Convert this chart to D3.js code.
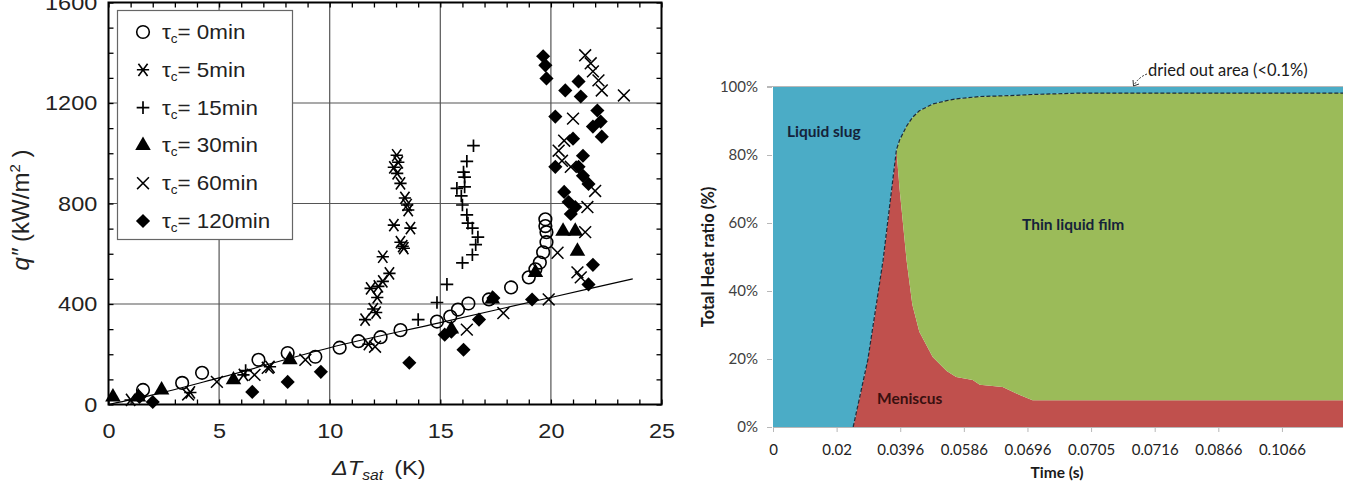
<!DOCTYPE html>
<html>
<head>
<meta charset="utf-8">
<script src="https://cdn.jsdelivr.net/npm/d3@7"></script>
<style>
  html, body { margin: 0; padding: 0; background: #fff; }
  svg { display: block; }
</style>
</head>
<body>
<svg id="chart" width="1360" height="484"></svg>
<script>
// ---------------- LEFT CHART DATA (ΔTsat [K], q'' [kW/m2]) ----------------
const xTicksLeft = [0, 5, 10, 15, 20, 25];
const yTicksLeft = [0, 400, 800, 1200, 1600];
const legendLabels = ["0min", "5min", "15min", "30min", "60min", "120min"];

const tau0 = [[1.56,58],[3.33,86],[4.23,126],[6.78,178],[8.1,205],[9.35,190],[10.45,226],[11.3,252],[12.3,268],[13.2,296],[14.85,330],[15.45,350],[15.8,378],[16.27,402],[17.2,418],[18.2,466],[19.0,506],[19.3,538],[19.5,565],[19.65,606],[19.8,646],[19.8,686],[19.75,710],[19.75,737]];
const tau5 = [[1.0,18],[3.7,48],[6.1,118],[7.3,150],[11.75,240],[11.6,338],[12.1,366],[11.97,380],[12.15,426],[11.85,462],[12.2,470],[12.4,490],[12.7,522],[12.4,588],[13.3,630],[13.2,646],[13.35,622],[13.65,702],[12.9,714],[13.55,774],[13.5,794],[13.4,822],[13.2,880],[13.05,920],[12.9,944],[13.1,964],[13.03,992]];
const tau15 = [[6.2,135],[14.0,338],[14.85,406],[15.3,478],[16.0,564],[16.45,596],[16.6,636],[16.7,666],[16.45,702],[16.25,722],[16.2,755],[16.0,794],[15.95,830],[16.1,866],[15.75,860],[16.1,905],[16.05,925],[16.2,968],[16.5,1030]];
const tau30 = [[0.2,30],[1.35,30],[2.4,58],[5.65,98],[8.2,178],[15.5,300],[17.35,420],[19.3,525],[20.55,690],[21.1,690],[21.2,610]];
const tau60 = [[3.6,40],[4.9,90],[6.6,118],[7.2,146],[8.9,178],[12.05,230],[16.2,298],[17.85,364],[19.9,418],[20.3,604],[20.6,1050],[20.35,1010],[20.5,970],[20.9,946],[21.0,1138],[21.2,526],[21.35,506],[21.55,686],[21.65,786],[22.0,850],[22.15,1290],[22.3,1250],[21.9,1326],[21.8,1358],[21.55,1390],[23.3,1230]];
const tau120 = [[1.4,30],[2.0,10],[6.5,50],[8.1,90],[9.6,130],[13.6,166],[15.2,278],[15.5,290],[16.05,218],[16.75,338],[17.4,424],[19.15,418],[19.65,1386],[19.75,1350],[19.8,1298],[20.65,1250],[20.2,1146],[21.25,1286],[21.35,1226],[22.1,1170],[22.25,1126],[21.9,1106],[22.3,1066],[21.0,1058],[21.45,990],[20.2,946],[21.25,946],[21.45,910],[21.7,878],[20.6,846],[20.8,806],[21.1,786],[20.9,758],[21.9,556],[21.7,478]];
const fitLine = [[0,0],[2,38],[5,106],[10,226],[15,326],[20,426],[23.7,500]];

// ---------------- RIGHT CHART DATA ----------------
const timeLabels = ["0", "0.02", "0.0396", "0.0586", "0.0696", "0.0705", "0.0716", "0.0866", "0.1066"];
const heatTicks = [0, 20, 40, 60, 80, 100];
// positions along the category axis (category index units)
const timePos   = [0, 1.26, 1.49, 1.73, 1.94, 1.99, 2.1, 2.19, 2.3, 2.51, 2.73, 2.88, 3.14, 3.25, 3.61, 3.88, 4.08, 4.82, 8.96];
const meniscus  = [0, 0, 19.7, 49, 81.5, 70, 49, 36, 28, 20.6, 16.5, 14.7, 13.8, 12.4, 11.8, 9.4, 7.9, 7.9, 7.9];
const thinFilm  = [0, 0, 0, 0, 0, 14.4, 39.5, 55, 65, 74.4, 79.5, 81.8, 83.2, 84.8, 85.6, 88.2, 89.9, 90.3, 90.3];
const liquidSlug= [100, 100, 80.3, 51, 18.5, 15.6, 11.5, 9, 7, 5, 4, 3.5, 3, 2.8, 2.6, 2.4, 2.2, 1.8, 1.8];

const svg = d3.select("#chart");

// ======================= LEFT CHART =======================
const L = svg.append("g").attr("font-family", "'Liberation Sans', Arial, sans-serif");
const xL = d3.scaleLinear().domain([0, 25]).range([108.5, 661.5]);
const yL = d3.scaleLinear().domain([0, 1600]).range([404.5, 2.5]);
const SX = 1.12;

// gridlines
L.append("g").selectAll("line.gx").data([5,10,15,20]).join("line")
  .attr("x1", d => xL(d)).attr("x2", d => xL(d)).attr("y1", yL(1600)).attr("y2", yL(0))
  .attr("stroke", "#555").attr("stroke-width", 1.2);
L.append("g").selectAll("line.gy").data([400,800,1200]).join("line")
  .attr("x1", xL(0)).attr("x2", xL(25)).attr("y1", d => yL(d)).attr("y2", d => yL(d))
  .attr("stroke", "#555").attr("stroke-width", 1.2);

// axes with inward minor ticks
function styleAxis(g) {
  g.select(".domain").remove();
  g.selectAll(".tick line").attr("stroke", "#000").attr("stroke-width", 1.3);
}
const xMinor = d3.range(0, 26, 1);
const yMinor = d3.range(0, 1601, 100);
L.append("g").attr("transform", `translate(0,${yL(0)})`)
  .call(d3.axisBottom(xL).tickValues(xMinor).tickSize(-5).tickPadding(19)
    .tickFormat(d => xTicksLeft.includes(d) ? d : ""))
  .call(styleAxis)
  .call(g => g.selectAll("text").attr("font-size", 21).attr("fill", "#222")
    .attr("font-family", "'Liberation Sans', Arial, sans-serif").attr("transform", `scale(${SX},1)`));
L.append("g").attr("transform", `translate(0,${yL(1600)})`)
  .call(d3.axisTop(xL).tickValues(xMinor).tickSize(-5).tickFormat(""))
  .call(styleAxis);
L.append("g").attr("transform", `translate(${xL(0)},0)`)
  .call(d3.axisLeft(yL).tickValues(yMinor).tickSize(-5).tickPadding(10)
    .tickFormat(d => yTicksLeft.includes(d) ? d : ""))
  .call(styleAxis)
  .call(g => g.selectAll("text").attr("font-size", 21).attr("fill", "#222")
    .attr("font-family", "'Liberation Sans', Arial, sans-serif").attr("transform", `scale(${SX},1)`));
L.append("g").attr("transform", `translate(${xL(25)},0)`)
  .call(d3.axisRight(yL).tickValues(yMinor).tickSize(-5).tickFormat(""))
  .call(styleAxis);

// frame
L.append("rect").attr("x", xL(0)).attr("y", yL(1600)).attr("width", xL(25) - xL(0)).attr("height", yL(0) - yL(1600))
  .attr("fill", "none").attr("stroke", "#000").attr("stroke-width", 2);

// symbols
const symX = { draw(ctx, size) { const r = Math.sqrt(size) / 2; ctx.moveTo(-r, -r); ctx.lineTo(r, r); ctx.moveTo(-r, r); ctx.lineTo(r, -r); } };
const symPlus = { draw(ctx, size) { const r = Math.sqrt(size) / 2; ctx.moveTo(-r, 0); ctx.lineTo(r, 0); ctx.moveTo(0, -r); ctx.lineTo(0, r); } };
const symStar = { draw(ctx, size) { const r = Math.sqrt(size) / 2; ctx.moveTo(-r, 0); ctx.lineTo(r, 0);
  const dx = r * 0.75, dy = r; ctx.moveTo(-dx, -dy); ctx.lineTo(dx, dy); ctx.moveTo(-dx, dy); ctx.lineTo(dx, -dy); } };
const symDiamond = { draw(ctx, size) { const r = Math.sqrt(size) / 2; ctx.moveTo(0, -r); ctx.lineTo(r, 0); ctx.lineTo(0, r); ctx.lineTo(-r, 0); ctx.closePath(); } };

const seriesDefs = [
  { data: tau0,   type: d3.symbolCircle,   size: 125, fill: "#fff",  stroke: "#000", sw: 1.6 },
  { data: tau5,   type: symStar,           size: 150, fill: "none",  stroke: "#000", sw: 1.6 },
  { data: tau15,  type: symPlus,           size: 160, fill: "none",  stroke: "#000", sw: 1.7 },
  { data: tau30,  type: d3.symbolTriangle, size: 105, fill: "#000",  stroke: "none", sw: 0 },
  { data: tau60,  type: symX,              size: 140, fill: "none",  stroke: "#000", sw: 1.5 },
  { data: tau120, type: symDiamond,        size: 200, fill: "#000",  stroke: "none", sw: 0 }
];

// fit line
L.append("path").datum(fitLine)
  .attr("d", d3.line().x(d => xL(d[0])).y(d => yL(d[1])).curve(d3.curveMonotoneX))
  .attr("fill", "none").attr("stroke", "#000").attr("stroke-width", 1.2);

seriesDefs.forEach(s => {
  const sym = d3.symbol().type(s.type).size(s.size);
  L.append("g").selectAll("path").data(s.data).join("path")
    .attr("transform", d => `translate(${xL(d[0])},${yL(d[1])})`)
    .attr("d", sym)
    .attr("fill", s.fill === "#fff" ? "none" : s.fill)
    .attr("stroke", s.stroke).attr("stroke-width", s.sw);
});

// legend
const lg = L.append("g");
lg.append("rect").attr("x", 117.5).attr("y", 10.5).attr("width", 175).attr("height", 229)
  .attr("fill", "#fff").attr("stroke", "#666").attr("stroke-width", 1.2);
seriesDefs.forEach((s, i) => {
  const y = 32 + i * 37.8;
  lg.append("path").attr("transform", `translate(143,${y})`)
    .attr("d", d3.symbol().type(s.type).size(s.size))
    .attr("fill", s.fill).attr("stroke", s.stroke).attr("stroke-width", s.sw);
  const t = lg.append("g").attr("transform", `translate(162,${y + 7}) scale(${SX},1)`)
    .append("text").attr("font-size", 20).attr("fill", "#222");
  t.append("tspan").text("τ");
  t.append("tspan").attr("font-size", 12).attr("dy", 4).text("c");
  t.append("tspan").attr("dy", -4).text("= " + legendLabels[i]);
});

// axis titles
const xt = L.append("g").attr("transform", `translate(332,475) scale(${SX},1)`)
  .append("text").attr("font-size", 21).attr("fill", "#222");
xt.append("tspan").attr("font-style", "italic").text("ΔT");
xt.append("tspan").attr("font-style", "italic").attr("font-size", 14).attr("dy", 5).text("sat");
xt.append("tspan").attr("dy", -5).attr("dx", 10).text("(K)");

const yt = L.append("g").attr("transform", `translate(29,210) rotate(-90)`)
  .append("text").attr("font-size", 24).attr("fill", "#222").attr("text-anchor", "middle");
yt.append("tspan").attr("font-style", "italic").text("q″");
yt.append("tspan").text(" (kW/m");
yt.append("tspan").attr("font-size", 15).attr("dy", -9).text("2");
yt.append("tspan").attr("dy", 9).text(" )");

// ======================= RIGHT CHART =======================
const FONT_R = "Lato, 'Open Sans', sans-serif";
const R = svg.append("g").attr("font-family", FONT_R);
const xR = d3.scaleLinear().domain([0, 8.96]).range([773, 1343]);
const yR = d3.scaleLinear().domain([0, 100]).range([427, 87]);

const rows = timePos.map((p, i) => ({ pos: p, meniscus: meniscus[i], thinFilm: thinFilm[i], liquidSlug: liquidSlug[i] }));
const keys = ["meniscus", "thinFilm", "liquidSlug"];
const colors = { meniscus: "#C0504D", thinFilm: "#9BBB59", liquidSlug: "#4BACC6" };
const stacked = d3.stack().keys(keys)(rows);

const area = d3.area().x(d => xR(d.data.pos)).y0(d => yR(d[0])).y1(d => yR(d[1]));
R.append("g").selectAll("path").data(stacked).join("path")
  .attr("d", area).attr("fill", d => colors[d.key]);

// boundary between liquid slug and the rest (dashed)
const boundary = rows.filter(r => r.pos >= 1.26);
R.append("path").datum(boundary)
  .attr("d", d3.line().x(d => xR(d.pos)).y(d => yR(d.meniscus + d.thinFilm)))
  .attr("fill", "none").attr("stroke", "#1c2b3a").attr("stroke-width", 1.2).attr("stroke-dasharray", "4,2");

// 100% gridline
R.append("line").attr("x1", 767).attr("x2", xR(8.96)).attr("y1", yR(100) - 0.5).attr("y2", yR(100) - 0.5)
  .attr("stroke", "#b8b8b8").attr("stroke-width", 1.2);

// axes
R.append("g").attr("transform", `translate(${xR(0) - 1},0)`)
  .call(d3.axisLeft(yR).tickValues(heatTicks).tickSize(5).tickPadding(9).tickFormat(d => d + "%"))
  .call(g => g.select(".domain").remove())
  .call(g => g.selectAll(".tick line").attr("stroke", "#b8b8b8"))
  .call(g => g.selectAll("text").attr("font-size", 15).attr("fill", "#404040").attr("font-family", FONT_R));
R.append("g").attr("transform", `translate(0,${yR(0)})`)
  .call(d3.axisBottom(xR).tickValues(d3.range(0, 9)).tickSize(5).tickPadding(12)
    .tickFormat(i => timeLabels[i]))
  .call(g => g.select(".domain").attr("stroke", "#b8b8b8").attr("d", `M${xR(0)},0.5H${xR(8.96)}`))
  .call(g => g.selectAll(".tick line").attr("stroke", "#b8b8b8"))
  .call(g => g.selectAll("text").attr("font-size", 15).attr("fill", "#222").attr("font-family", FONT_R));

// titles
R.append("text").attr("x", 1057).attr("y", 478).attr("text-anchor", "middle")
  .attr("font-size", 15.5).attr("font-weight", "bold").attr("fill", "#1a1a1a").text("Time (s)");
R.append("text").attr("transform", "translate(714,257) rotate(-90)").attr("text-anchor", "middle")
  .attr("font-size", 16.5).attr("font-weight", "bold").attr("fill", "#1a1a1a").text("Total Heat ratio (%)");

// region labels
R.append("text").attr("x", 787).attr("y", 136.5).attr("font-size", 15.5).attr("font-weight", "bold")
  .attr("fill", "#15223a").text("Liquid slug");
R.append("text").attr("x", 1022).attr("y", 229.5).attr("font-size", 15.5).attr("font-weight", "bold")
  .attr("fill", "#15223a").text("Thin liquid film");
R.append("text").attr("x", 877).attr("y", 403.5).attr("font-size", 15.5).attr("font-weight", "bold")
  .attr("fill", "#3a1010").text("Meniscus");

// annotation
R.append("text").attr("x", 1148).attr("y", 76).attr("font-size", 16.5).attr("fill", "#1a1a1a")
  .text("dried out area  (<0.1%)");
R.append("path").attr("d", "M1147,74 Q1139,77 1134,85")
  .attr("fill", "none").attr("stroke", "#333").attr("stroke-width", 1).attr("stroke-dasharray", "2,1.5");
R.append("path").attr("d", "M1133,80 L1133.5,86 L1139,84")
  .attr("fill", "none").attr("stroke", "#333").attr("stroke-width", 1);
</script>
</body>
</html>
